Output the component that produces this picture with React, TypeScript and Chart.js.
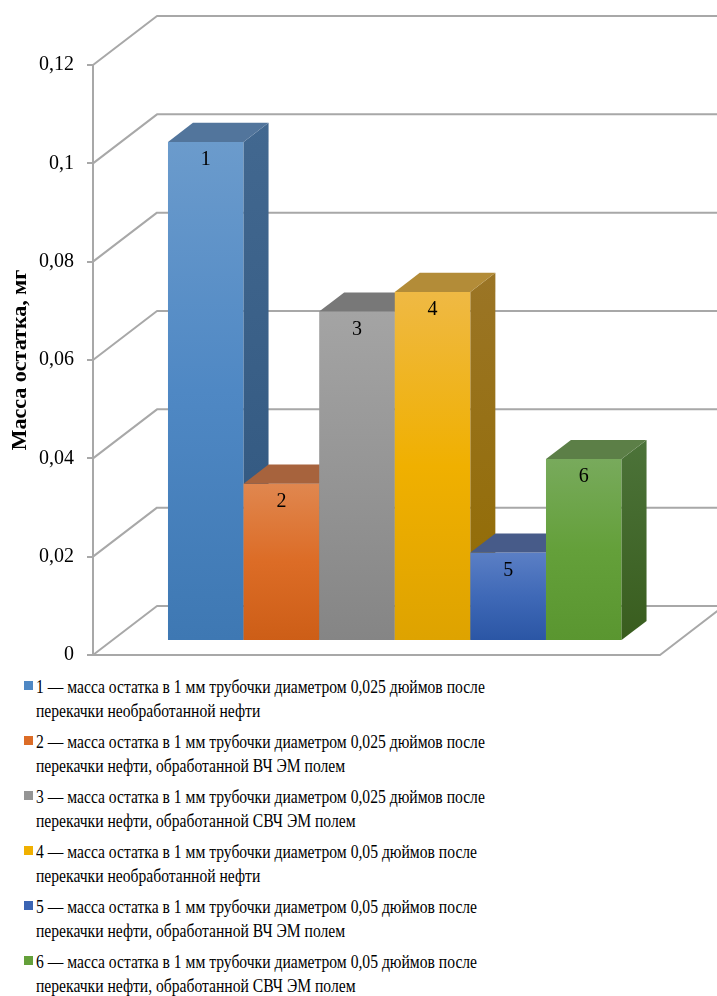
import React, { useEffect, useRef } from "react";
import { Chart, registerables } from "chart.js";

Chart.register(...registerables);

// ---- data ----
const CATEGORIES = [""];
const SERIES_NAMES = ["1", "2", "3", "4", "5", "6"];
const SERIES_VALUES = [0.1015, 0.032, 0.067, 0.071, 0.018, 0.037];
const Y_MIN = 0;
const Y_MAX = 0.12;
const Y_STEP = 0.02;
const Y_TITLE = "Масса остатка, мг";
const LEGEND_TEXT = [
  "1 — масса остатка в 1 мм трубочки диаметром 0,025 дюймов после перекачки необработанной нефти",
  "2 — масса остатка в 1 мм трубочки диаметром 0,025 дюймов после перекачки нефти, обработанной ВЧ ЭМ полем",
  "3 — масса остатка в 1 мм трубочки диаметром 0,025 дюймов после перекачки нефти, обработанной СВЧ ЭМ полем",
  "4 — масса остатка в 1 мм трубочки диаметром 0,05 дюймов после перекачки необработанной нефти",
  "5 — масса остатка в 1 мм трубочки диаметром 0,05 дюймов после перекачки нефти, обработанной ВЧ ЭМ полем",
  "6 — масса остатка в 1 мм трубочки диаметром 0,05 дюймов после перекачки нефти, обработанной СВЧ ЭМ полем",
];

// ---- styles ----
const FRONT = [
  ["#6b9bcc", "#4f88c4", "#3e78b3"],
  ["#e0874f", "#dc6c26", "#cd5e17"],
  ["#a4a4a4", "#959595", "#858585"],
  ["#efb944", "#f0b000", "#dea300"],
  ["#5b7fc5", "#3f69b7", "#2b56a5"],
  ["#78aa5c", "#64a03a", "#5a9630"],
];
const TOPS = ["#52759c", "#a7633d", "#787878", "#b38c38", "#475b89", "#5c7f47"];
const SIDES = [
  ["#426890", "#2f557d"],
  ["#a5592a", "#8f4614"],
  ["#6e6e6e", "#5e5e5e"],
  ["#9b7526", "#916b00"],
  ["#38528a", "#263f78"],
  ["#4c7339", "#395d1e"],
];
const LEGEND_COLORS = ["#4f88c4", "#dc6c26", "#959595", "#f0b000", "#3b64b3", "#64a03a"];
const GRID = "#a8a8a8";
const SERIF = '"Liberation Serif", "Times New Roman", serif';
const DEPTH = { x: 64, y: 49 };
const BAR_FRONT = 0.2857;
const BAR_DEPTH = 0.39;

function frontGradient(ctx: CanvasRenderingContext2D, i: number, top: number, base: number) {
  const g = ctx.createLinearGradient(0, top, 0, base);
  g.addColorStop(0, FRONT[i][0]);
  g.addColorStop(0.5, FRONT[i][1]);
  g.addColorStop(1, FRONT[i][2]);
  return g;
}

const threeD = {
  id: "threeD",
  beforeDatasetsDraw(chart: any) {
    const { ctx, chartArea, scales } = chart;
    const ys = scales.y;
    ctx.save();
    ctx.strokeStyle = GRID;
    ctx.lineWidth = 2;
    ctx.lineJoin = "round";
    for (const t of ys.ticks) {
      const py = ys.getPixelForValue(t.value);
      ctx.beginPath();
      ctx.moveTo(chartArea.left, py);
      ctx.lineTo(chartArea.left + DEPTH.x, py - DEPTH.y);
      ctx.lineTo(chart.width + 5, py - DEPTH.y);
      ctx.stroke();
    }
    const p0 = ys.getPixelForValue(Y_MIN);
    ctx.beginPath();
    ctx.moveTo(chartArea.left, p0);
    ctx.lineTo(chartArea.right, p0);
    ctx.lineTo(chartArea.right + DEPTH.x, p0 - DEPTH.y);
    ctx.stroke();
    ctx.restore();
  },
  beforeDatasetDraw() {
    return false;
  },
  afterDatasetsDraw(chart: any) {
    const { ctx } = chart;
    const n = chart.data.datasets.length;
    const dx = DEPTH.x * BAR_DEPTH;
    const dy = DEPTH.y * BAR_DEPTH;
    for (let i = 0; i < n; i++) {
      const meta = chart.getDatasetMeta(i);
      meta.data.forEach((el: any) => {
        const { x, y, base, width } = el.getProps(["x", "y", "base", "width"], true);
        if (![x, y, base, width].every(Number.isFinite)) return;
        const L = x - width / 2;
        const R = x + width / 2;
        ctx.save();
        ctx.translate(DEPTH.x * BAR_FRONT, -DEPTH.y * BAR_FRONT);
        // front face (Chart.js element), with gradient fill
        el.options.backgroundColor = frontGradient(ctx, i, y, base);
        el.draw(ctx);
        // side face
        const sg = ctx.createLinearGradient(0, y - dy, 0, base);
        sg.addColorStop(0, SIDES[i][0]);
        sg.addColorStop(1, SIDES[i][1]);
        ctx.fillStyle = sg;
        ctx.beginPath();
        ctx.moveTo(R, y);
        ctx.lineTo(R + dx, y - dy);
        ctx.lineTo(R + dx, base - dy);
        ctx.lineTo(R, base);
        ctx.closePath();
        ctx.fill();
        // top face
        ctx.fillStyle = TOPS[i];
        ctx.beginPath();
        ctx.moveTo(L, y);
        ctx.lineTo(L + dx, y - dy);
        ctx.lineTo(R + dx, y - dy);
        ctx.lineTo(R, y);
        ctx.closePath();
        ctx.fill();
        // label
        ctx.fillStyle = "#000";
        ctx.font = `20px ${SERIF}`;
        ctx.textAlign = "center";
        ctx.textBaseline = "middle";
        ctx.fillText(chart.data.datasets[i].label, x, y + 18);
        ctx.restore();
      });
    }
  },
};

function splitLegend(t: string): [string, string] {
  const k = t.indexOf(" перекачки");
  return [t.slice(0, k), t.slice(k + 1)];
}

export default function App() {
  const ref = useRef<HTMLCanvasElement>(null);
  useEffect(() => {
    if (!ref.current) return;
    const chart = new Chart(ref.current, {
      type: "bar",
      data: {
        labels: CATEGORIES,
        datasets: SERIES_NAMES.map((name, i) => ({
          label: name,
          data: [SERIES_VALUES[i]],
          clip: false as any,
          borderWidth: 0,
          backgroundColor: FRONT[i][1],
        })),
      },
      options: {
        animation: false,
        responsive: false,
        devicePixelRatio: 1,
        layout: { padding: { top: 65, bottom: 15, left: 0, right: 57 } },
        datasets: { bar: { categoryPercentage: 0.8, barPercentage: 1 } },
        plugins: { legend: { display: false }, tooltip: { enabled: false } },
        scales: {
          x: { display: false },
          y: {
            min: Y_MIN,
            max: Y_MAX,
            afterFit: (s: any) => {
              s.width = 93;
              s.paddingTop = 0;
              s.paddingBottom = 0;
            },
            ticks: {
              stepSize: Y_STEP,
              padding: 13,
              color: "#000",
              font: { family: SERIF, size: 20 },
              callback: (v: any) => String(Number(Number(v).toFixed(3))).replace(".", ","),
            },
            grid: {
              display: true,
              drawOnChartArea: false,
              drawTicks: true,
              tickLength: 6,
              tickColor: GRID,
              lineWidth: 2,
            },
            border: { display: true, color: GRID, width: 2 },
            title: {
              display: true,
              text: Y_TITLE,
              color: "#000",
              font: { family: SERIF, size: 22, weight: "bold" },
              padding: { top: 7, bottom: 0 },
            },
          },
        },
      },
      plugins: [threeD],
    });
    return () => chart.destroy();
  }, []);

  return (
    <div style={{ position: "absolute", left: 0, top: 0, width: 717, height: 996, background: "#fff" }}>
      <canvas ref={ref} width={717} height={670} style={{ display: "block", width: 717, height: 670 }} />
      <div style={{ position: "absolute", left: 0, top: 675, width: 717 }}>
        {LEGEND_TEXT.map((t, i) => {
          const [l1, l2] = splitLegend(t);
          return (
            <div key={i} style={{ position: "relative", height: 48, marginBottom: 7 }}>
              <span
                style={{
                  position: "absolute",
                  left: 24,
                  top: 6,
                  width: 9,
                  height: 9,
                  background: LEGEND_COLORS[i],
                }}
              />
              <div
                style={{
                  position: "absolute",
                  left: 36,
                  top: 0,
                  fontFamily: SERIF,
                  fontSize: 19,
                  lineHeight: "24px",
                  whiteSpace: "nowrap",
                  color: "#000",
                  transform: "scaleX(0.822)",
                  transformOrigin: "0 0",
                }}
              >
                <div>{l1}</div>
                <div>{l2}</div>
              </div>
            </div>
          );
        })}
      </div>
    </div>
  );
}
